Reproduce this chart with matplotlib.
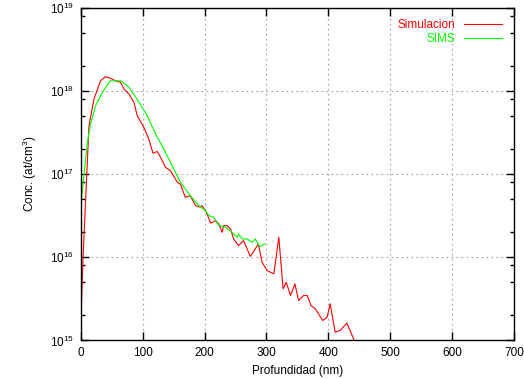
import numpy as np
import matplotlib
matplotlib.use('Agg')
import matplotlib.pyplot as plt
from matplotlib.ticker import LogLocator, MultipleLocator

plt.rcParams['font.family'] = ['Liberation Sans', 'DejaVu Sans']
plt.rcParams['mathtext.default'] = 'regular'
plt.rcParams['font.size'] = 8.5

# Simulacion (red): depth in nm, log10 of concentration
sim_x = [0, 3.7, 8, 13.4, 21.5, 32, 40, 48, 56, 64.5, 70, 78, 86, 91.4, 102, 110,
         116.7, 123.7, 129, 137, 145, 153, 156, 161, 169, 177, 185.5, 193.5, 196,
         203, 210, 218, 223, 228.5, 231, 236.5, 242, 247, 255, 263, 274, 282, 287,
         293, 301, 312, 320, 327, 332, 339, 346, 352, 360, 366, 372, 379, 391, 398,
         403, 411, 419, 430, 443]
sim_log = [15.16, 15.98, 16.70, 17.58, 17.90, 18.12, 18.17, 18.15, 18.12, 18.10,
           18.02, 17.96, 17.86, 17.70, 17.56, 17.42, 17.25, 17.27, 17.20, 17.08,
           17.04, 16.94, 16.90, 16.88, 16.72, 16.74, 16.62, 16.60, 16.62, 16.54,
           16.41, 16.44, 16.40, 16.30, 16.38, 16.38, 16.34, 16.22, 16.14, 16.20,
           16.01, 16.10, 16.16, 15.94, 15.84, 15.80, 16.24, 15.62, 15.70, 15.54,
           15.68, 15.48, 15.54, 15.54, 15.42, 15.38, 15.24, 15.28, 15.44, 15.10,
           15.12, 15.21, 14.98]

# SIMS (green)
sims_x = [1, 5.4, 10.8, 16, 24, 35, 48, 64.5, 78, 91, 107.5, 121, 137, 145, 153,
          161, 177, 191, 201.6, 207, 215, 223, 234, 244.6, 252.7, 255, 261, 269,
          277, 282, 289, 298]
sims_log = [16.68, 17.00, 17.38, 17.60, 17.82, 17.98, 18.12, 18.12, 18.04, 17.90,
            17.70, 17.48, 17.26, 17.14, 17.02, 16.90, 16.74, 16.62, 16.56, 16.50,
            16.48, 16.38, 16.36, 16.30, 16.24, 16.28, 16.22, 16.22, 16.18, 16.22,
            16.13, 16.16]

sim_y = 10 ** np.array(sim_log)
sims_y = 10 ** np.array(sims_log)

fig = plt.figure(figsize=(5.24, 3.79), dpi=100)
ax = fig.add_axes([0.154, 0.1016, 0.827, 0.8786])

ax.plot(sim_x, sim_y, color='#ff0000', lw=0.8, label='Simulacion')
ax.plot(sims_x, sims_y, color='#00ff00', lw=0.8, label='SIMS')

ax.set_yscale('log')
ax.set_xlim(0, 700)
ax.set_ylim(1e15, 1e19)
ax.xaxis.set_major_locator(MultipleLocator(100))
ax.yaxis.set_major_locator(LogLocator(base=10, numticks=10))
ax.yaxis.set_minor_locator(LogLocator(base=10, subs=(2, 5, 8), numticks=10))

ax.tick_params(which='both', direction='in', top=True, right=True, width=1, color='black')
ax.tick_params(which='major', length=6, pad=5)
ax.tick_params(which='minor', length=3)
for s in ax.spines.values():
    s.set_linewidth(1)

ax.grid(True, which='major', color='#a0a0a0', linestyle=(0, (1.5, 3)), linewidth=0.8)

ax.set_xlabel('Profundidad (nm)', labelpad=4)
ax.set_ylabel('Conc. (at/cm$^3$)', labelpad=8)

leg = ax.legend(loc='upper right', frameon=False, markerfirst=False, handlelength=3.2,
                handletextpad=0.8, borderaxespad=0.6, labelspacing=0.15)
for t, c in zip(leg.get_texts(), ['#ff0000', '#00ff00']):
    t.set_color(c)
    t.set_ha('right')

fig.savefig('out.png', dpi=100)
